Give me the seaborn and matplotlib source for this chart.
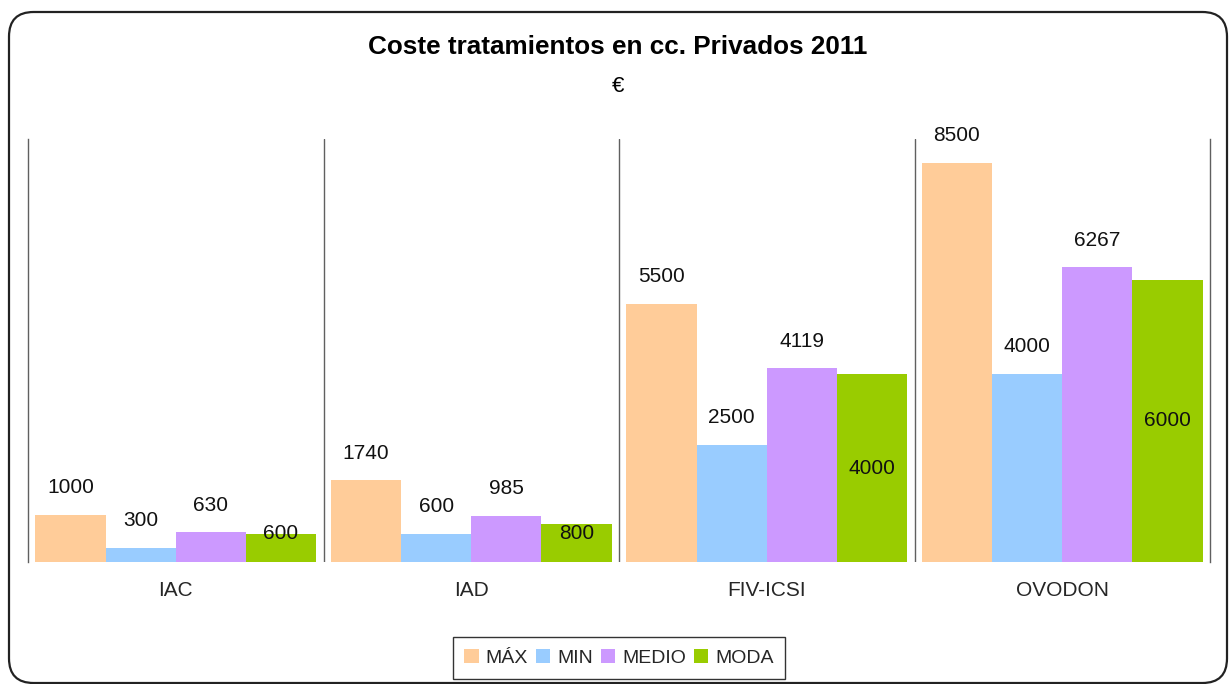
import matplotlib
matplotlib.use("Agg")
import matplotlib.pyplot as plt
import seaborn as sns
import pandas as pd
from matplotlib.patches import FancyBboxPatch

categories = ["IAC", "IAD", "FIV-ICSI", "OVODON"]
series = ["MÁX", "MIN", "MEDIO", "MODA"]
max_vals = [1000, 1740, 5500, 8500]
min_vals = [300, 600, 2500, 4000]
medio_vals = [630, 985, 4119, 6267]
moda_vals = [600, 800, 4000, 6000]
colors = ["#FFCC99", "#99CCFF", "#CC99FF", "#99CC00"]

values = {"MÁX": max_vals, "MIN": min_vals, "MEDIO": medio_vals, "MODA": moda_vals}
rows = []
for s in series:
    for c, v in zip(categories, values[s]):
        rows.append({"cat": c, "serie": s, "valor": v})
df = pd.DataFrame(rows)

sns.set_theme(style="white")
plt.rcParams["font.family"] = ["Liberation Sans", "DejaVu Sans"]

fig = plt.figure(figsize=(12.31, 6.84), dpi=100)
W, H = 1231, 684
ax = fig.add_axes([28 / W, (H - 562) / H, (1210 - 28) / W, (562 - 139) / H])

sns.barplot(data=df, x="cat", y="valor", hue="serie", order=categories,
            hue_order=series, palette=colors, width=0.95, gap=0,
            saturation=1, linewidth=0, ax=ax, legend=True)

ax.set_xlim(-0.5, 3.5)
ax.set_ylim(0, 9000)
ax.set_xlabel("")
ax.set_ylabel("")
ax.set_yticks([])
ax.tick_params(axis="x", length=0, pad=14, labelsize=15)
for sp in ["top", "bottom"]:
    ax.spines[sp].set_visible(False)
for sp in ["left", "right"]:
    ax.spines[sp].set_color("#606060")
    ax.spines[sp].set_linewidth(1.0)
for xv in [0.5, 1.5, 2.5]:
    ax.axvline(xv, color="#606060", linewidth=1.0)

for s, cont in zip(series, ax.containers):
    for bar, v in zip(cont.patches, values[s]):
        xc = bar.get_x() + bar.get_width() / 2
        if s == "MODA":
            ax.text(xc, max(v / 2, 600), f"{v}", ha="center", va="center",
                    fontsize=15, color="#111111")
        else:
            ax.annotate(f"{v}", (xc, v), xytext=(0, 19.5), textcoords="offset points",
                        ha="center", va="center", fontsize=15, color="#111111")

leg = ax.legend(loc="center", bbox_to_anchor=(619 / W, (H - 658) / H),
                bbox_transform=fig.transFigure, ncol=4, frameon=True, fancybox=False,
                fontsize=14, handlelength=0.75, handleheight=0.75, handletextpad=0.35,
                columnspacing=0.4, borderpad=0.6, borderaxespad=0)
leg.get_frame().set_edgecolor("black")
leg.get_frame().set_linewidth(1.0)

fig.text(618 / W, (H - 47) / H, "Coste tratamientos en cc. Privados 2011",
         ha="center", va="center", fontsize=18.8, fontweight="bold", color="black")
fig.text(618 / W, (H - 87) / H, "€", ha="center", va="center", fontsize=16,
         color="black")

border = FancyBboxPatch((9 / W, 1 / H), (1227 - 9) / W, (671) / H,
                        boxstyle="round,pad=0,rounding_size=0.02",
                        transform=fig.transFigure, fill=False,
                        edgecolor="#222222", linewidth=1.6, mutation_aspect=W / H)
fig.patches.append(border)

fig.savefig("out.png", dpi=100, facecolor="white")
